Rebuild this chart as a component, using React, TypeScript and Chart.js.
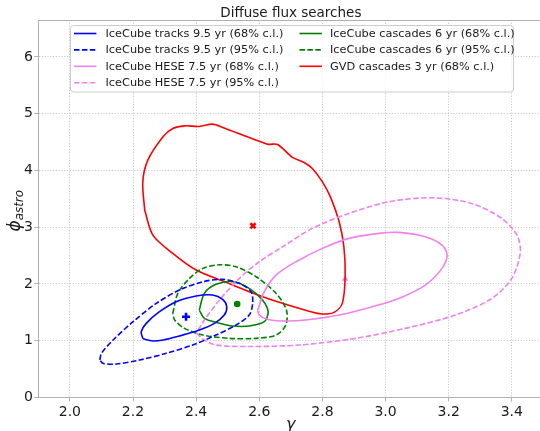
import React, { useEffect, useRef } from "react";
import { Chart, registerables } from "chart.js";

Chart.register(...registerables);

const FONT = '"DejaVu Sans", "Liberation Sans", sans-serif';

// Axis ranges and ticks
const X_MIN = 1.9;
const X_MAX = 3.5;
const Y_MIN = 0;
const Y_MAX = 6.65;
const X_TICKS = [2.0, 2.2, 2.4, 2.6, 2.8, 3.0, 3.2, 3.4];
const Y_TICKS = [0, 1, 2, 3, 4, 5, 6];

// IceCube tracks 9.5 yr, 68% contour
const TRACKS68_GAMMA = [2.231, 2.226, 2.242, 2.284, 2.337, 2.4, 2.452, 2.484, 2.497, 2.489, 2.458, 2.41, 2.347, 2.295, 2.263, 2.237];
const TRACKS68_PHI = [1.042, 1.158, 1.306, 1.511, 1.687, 1.787, 1.805, 1.729, 1.599, 1.452, 1.306, 1.188, 1.083, 1.012, 0.995, 1.025];

// IceCube tracks 9.5 yr, 95% contour
const TRACKS95_GAMMA = [2.095, 2.1, 2.137, 2.2, 2.274, 2.347, 2.421, 2.484, 2.537, 2.574, 2.579, 2.568, 2.526, 2.463, 2.389, 2.305, 2.221, 2.147, 2.105];
const TRACKS95_PHI = [0.66, 0.778, 1.012, 1.335, 1.658, 1.893, 2.039, 2.081, 2.011, 1.863, 1.658, 1.452, 1.276, 1.1, 0.924, 0.778, 0.66, 0.59, 0.602];

// IceCube HESE 7.5 yr, 68% contour
const HESE68_GAMMA = [2.595, 2.616, 2.653, 2.716, 2.8, 2.884, 2.979, 3.042, 3.126, 3.179, 3.195, 3.179, 3.126, 3.042, 2.958, 2.853, 2.747, 2.674, 2.626, 2.6];
const HESE68_PHI = [1.54, 1.863, 2.157, 2.391, 2.627, 2.803, 2.891, 2.908, 2.831, 2.685, 2.509, 2.275, 1.981, 1.746, 1.599, 1.452, 1.364, 1.347, 1.377, 1.452];

// IceCube HESE 7.5 yr, 95% contour
const HESE95_GAMMA = [2.401, 2.426, 2.463, 2.568, 2.726, 2.905, 3.063, 3.221, 3.337, 3.4, 3.427, 3.416, 3.368, 3.273, 3.147, 3.01, 2.884, 2.768, 2.674, 2.6, 2.537, 2.474, 2.426];
const HESE95_PHI = [1.136, 1.012, 0.924, 0.898, 0.924, 1.042, 1.218, 1.452, 1.746, 2.099, 2.562, 2.861, 3.155, 3.419, 3.518, 3.447, 3.243, 2.979, 2.655, 2.391, 2.099, 1.717, 1.364];

// IceCube cascades 6 yr, 68% contour
const CASC68_GAMMA = [2.41, 2.426, 2.463, 2.516, 2.568, 2.61, 2.628, 2.616, 2.568, 2.516, 2.468, 2.426];
const CASC68_PHI = [1.54, 1.835, 1.993, 2.039, 1.923, 1.717, 1.511, 1.335, 1.259, 1.259, 1.317, 1.394];

// IceCube cascades 6 yr, 95% contour
const CASC95_GAMMA = [2.326, 2.342, 2.379, 2.421, 2.474, 2.526, 2.59, 2.653, 2.686, 2.684, 2.653, 2.59, 2.505, 2.421, 2.363, 2.332];
const CASC95_PHI = [1.482, 1.835, 2.099, 2.275, 2.338, 2.303, 2.127, 1.835, 1.54, 1.276, 1.1, 1.042, 1.042, 1.1, 1.218, 1.364];

// Baikal-GVD cascades 3 yr, 68% contour
const GVD68_GAMMA = [2.237, 2.231, 2.247, 2.295, 2.326, 2.363, 2.41, 2.452, 2.484, 2.626, 2.658, 2.705, 2.742, 2.768, 2.8, 2.826, 2.853, 2.868, 2.872, 2.863, 2.837, 2.8, 2.763, 2.663, 2.568, 2.495, 2.4, 2.326, 2.263];
const GVD68_PHI = [3.301, 3.799, 4.181, 4.592, 4.739, 4.785, 4.775, 4.815, 4.757, 4.463, 4.458, 4.229, 4.141, 4.035, 3.799, 3.525, 3.095, 2.655, 2.127, 1.658, 1.5, 1.47, 1.511, 1.676, 1.863, 2.028, 2.245, 2.539, 2.861];

// Best-fit points: tracks, cascades, HESE, GVD
const BEST_GAMMA = [2.368, 2.53, 2.872, 2.58];
const BEST_PHI = [1.423, 1.646, 2.09, 3.025];

const BLUE = "#0000ff";
const GREEN = "#008000";
const VIOLET = "#ee82ee";
const RED = "#ff0000";
const DASH = [5.5, 2.4];

type Series = { label: string; gamma: number[]; phi: number[]; color: string; dashed: boolean };

const SERIES: Series[] = [
  { label: "IceCube tracks 9.5 yr (68% c.l.)", gamma: TRACKS68_GAMMA, phi: TRACKS68_PHI, color: BLUE, dashed: false },
  { label: "IceCube tracks 9.5 yr (95% c.l.)", gamma: TRACKS95_GAMMA, phi: TRACKS95_PHI, color: BLUE, dashed: true },
  { label: "IceCube HESE 7.5 yr (68% c.l.)", gamma: HESE68_GAMMA, phi: HESE68_PHI, color: VIOLET, dashed: false },
  { label: "IceCube HESE 7.5 yr (95% c.l.)", gamma: HESE95_GAMMA, phi: HESE95_PHI, color: VIOLET, dashed: true },
  { label: "IceCube cascades 6 yr (68% c.l.)", gamma: CASC68_GAMMA, phi: CASC68_PHI, color: GREEN, dashed: false },
  { label: "IceCube cascades 6 yr (95% c.l.)", gamma: CASC95_GAMMA, phi: CASC95_PHI, color: GREEN, dashed: true },
  { label: "GVD cascades 3 yr (68% c.l.)", gamma: GVD68_GAMMA, phi: GVD68_PHI, color: RED, dashed: false },
];

const BEST_STYLES = [
  { color: BLUE, pointStyle: "cross", radius: 4, borderWidth: 2.6 },
  { color: GREEN, pointStyle: "circle", radius: 3.3, borderWidth: 0 },
  { color: VIOLET, pointStyle: "triangle", radius: 3.2, borderWidth: 0.5 },
  { color: RED, pointStyle: "crossRot", radius: 3.6, borderWidth: 2.6 },
];

const closeLoop = (g: number[], p: number[]) => {
  const pts = g.map((x, i) => ({ x, y: p[i] }));
  pts.push({ ...pts[0] });
  return pts;
};

const SPINE = "#b0b0b0";
const TEXT = "#1a1a1a";

// Draws the top spine, title, axis titles and the two-column legend
const decorations = {
  id: "decorations",
  afterDraw(chart: any) {
    const { ctx, chartArea } = chart;
    const { left, right, top, bottom } = chartArea;
    ctx.save();

    // top spine
    ctx.strokeStyle = SPINE;
    ctx.lineWidth = 1;
    ctx.beginPath();
    ctx.moveTo(left, Math.round(top) + 0.5);
    ctx.lineTo(right, Math.round(top) + 0.5);
    ctx.stroke();

    const cx = (left + right) / 2;

    // title
    ctx.fillStyle = TEXT;
    ctx.font = `13.5px ${FONT}`;
    ctx.textAlign = "center";
    ctx.textBaseline = "alphabetic";
    ctx.fillText("Diffuse flux searches", cx, 17.2);

    // x axis title
    ctx.font = `italic 16px ${FONT}`;
    ctx.fillText("γ", cx, 428.5);

    // y axis title with subscript
    const cy = (top + bottom) / 2 + 2;
    ctx.save();
    ctx.translate(0, cy);
    ctx.rotate(-Math.PI / 2);
    ctx.textAlign = "left";
    const bigFont = `italic 17px ${FONT}`;
    const smallFont = `italic 11.9px ${FONT}`;
    ctx.font = bigFont;
    const wBig = ctx.measureText("ϕ").width;
    ctx.font = smallFont;
    const wSmall = ctx.measureText("astro").width;
    const x0 = -(wBig + wSmall) / 2;
    ctx.font = bigFont;
    ctx.fillText("ϕ", x0, 19.5);
    ctx.font = smallFont;
    ctx.fillText("astro", x0 + wBig, 22.8);
    ctx.restore();

    // legend
    const bx = 70.5, by = 25.5, bw = 443, bh = 66.5;
    ctx.fillStyle = "rgba(255,255,255,0.8)";
    ctx.strokeStyle = "#cccccc";
    ctx.lineWidth = 1;
    ctx.beginPath();
    ctx.roundRect(bx, by, bw, bh, 3);
    ctx.fill();
    ctx.stroke();

    const colX = [{ line: 74, text: 105.5 }, { line: 299.5, text: 330 }];
    const rowY = [33.5, 49.9, 66.3, 82.7];
    ctx.font = `11.3px ${FONT}`;
    ctx.textBaseline = "middle";
    ctx.textAlign = "left";
    SERIES.forEach((s, i) => {
      const col = i < 4 ? 0 : 1;
      const row = i < 4 ? i : i - 4;
      const y = rowY[row];
      const lx = colX[col].line;
      ctx.strokeStyle = s.color;
      ctx.lineWidth = 1.6;
      ctx.setLineDash(s.dashed ? DASH : []);
      ctx.beginPath();
      ctx.moveTo(lx, y);
      ctx.lineTo(lx + 22.4, y);
      ctx.stroke();
      ctx.setLineDash([]);
      ctx.fillStyle = TEXT;
      ctx.fillText(s.label, colX[col].text, y + 0.5);
    });

    ctx.restore();
  },
};

export default function App() {
  const canvasRef = useRef<HTMLCanvasElement | null>(null);

  useEffect(() => {
    const canvas = canvasRef.current;
    if (!canvas) return;

    const contourSets = SERIES.map((s) => ({
      type: "scatter" as const,
      label: s.label,
      data: closeLoop(s.gamma, s.phi),
      showLine: true,
      borderColor: s.color,
      backgroundColor: s.color,
      borderWidth: 1.6,
      borderDash: s.dashed ? DASH : [],
      pointRadius: 0,
      pointHoverRadius: 0,
      tension: 0.3,
      fill: false,
    }));

    const bestSets = BEST_GAMMA.map((g, i) => ({
      type: "scatter" as const,
      label: `best fit ${i}`,
      data: [{ x: g, y: BEST_PHI[i] }],
      showLine: false,
      pointStyle: BEST_STYLES[i].pointStyle,
      pointRadius: BEST_STYLES[i].radius,
      pointBorderWidth: BEST_STYLES[i].borderWidth,
      borderWidth: BEST_STYLES[i].borderWidth,
      borderColor: BEST_STYLES[i].color,
      backgroundColor: BEST_STYLES[i].color,
    }));

    const chart = new Chart(canvas, {
      type: "scatter",
      data: { datasets: [...contourSets, ...bestSets] as any },
      plugins: [decorations],
      options: {
        responsive: false,
        animation: false,
        devicePixelRatio: 1,
        events: [],
        layout: { padding: { top: 20, right: 5, left: 0, bottom: 0 } },
        plugins: {
          legend: { display: false },
          tooltip: { enabled: false },
          title: { display: false },
        },
        scales: {
          x: {
            type: "linear",
            min: X_MIN,
            max: X_MAX,
            afterBuildTicks: (scale: any) => {
              scale.ticks = X_TICKS.map((v) => ({ value: v }));
            },
            afterFit: (scale: any) => {
              scale.height = 33.5;
            },
            ticks: {
              autoSkip: false,
              maxRotation: 0,
              padding: 2,
              color: TEXT,
              font: { family: FONT, size: 14 },
              callback: (v: any) => Number(v).toFixed(1),
            },
            grid: { color: "#bdbdbd", lineWidth: 0.8, tickLength: 4, tickColor: SPINE, tickWidth: 1 },
            border: { color: SPINE, width: 1, dash: [1.2, 1.6] },
          },
          y: {
            type: "linear",
            min: Y_MIN,
            max: Y_MAX,
            afterBuildTicks: (scale: any) => {
              scale.ticks = Y_TICKS.map((v) => ({ value: v }));
            },
            afterFit: (scale: any) => {
              scale.width = 38.3;
            },
            ticks: {
              autoSkip: false,
              padding: 1.3,
              color: TEXT,
              font: { family: FONT, size: 14 },
              callback: (v: any) => String(v),
            },
            grid: { color: "#bdbdbd", lineWidth: 0.8, tickLength: 4, tickColor: SPINE, tickWidth: 1 },
            border: { color: SPINE, width: 1, dash: [1.2, 1.6] },
          },
        },
      } as any,
    });

    return () => chart.destroy();
  }, []);

  return (
    <div
      style={{
        position: "fixed",
        left: 0,
        top: 0,
        width: 540,
        height: 431,
        overflow: "hidden",
        background: "#ffffff",
      }}
    >
      <canvas ref={canvasRef} width={550} height={431} style={{ display: "block" }} />
    </div>
  );
}
